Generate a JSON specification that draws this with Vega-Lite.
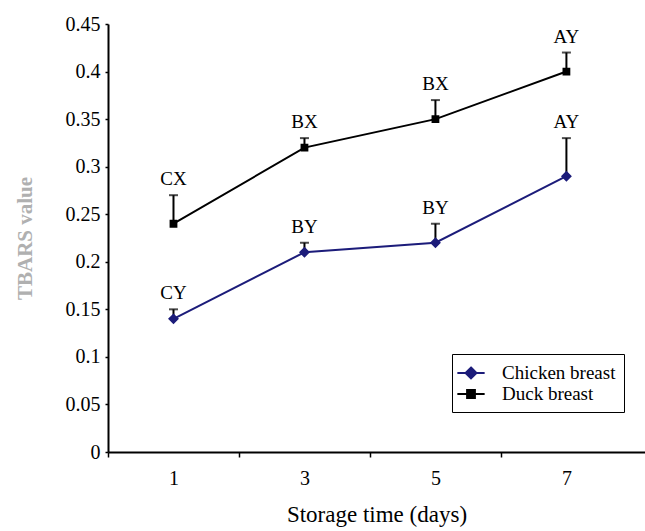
{
  "$schema": "https://vega.github.io/schema/vega-lite/v6.json",
  "width": 537,
  "height": 428,
  "autosize": "none",
  "padding": {"left": 108, "top": 24, "right": 0, "bottom": 79},
  "background": "white",
  "config": {
    "view": {"stroke": null},
    "font": "Liberation Serif"
  },
  "data": {
    "values": [
      {"day": 1, "series": "Chicken breast", "value": 0.14, "upper": 0.15, "label": "CY"},
      {"day": 3, "series": "Chicken breast", "value": 0.21, "upper": 0.22, "label": "BY"},
      {"day": 5, "series": "Chicken breast", "value": 0.22, "upper": 0.24, "label": "BY"},
      {"day": 7, "series": "Chicken breast", "value": 0.29, "upper": 0.33, "label": "AY"},
      {"day": 1, "series": "Duck breast", "value": 0.24, "upper": 0.27, "label": "CX"},
      {"day": 3, "series": "Duck breast", "value": 0.32, "upper": 0.33, "label": "BX"},
      {"day": 5, "series": "Duck breast", "value": 0.35, "upper": 0.37, "label": "BX"},
      {"day": 7, "series": "Duck breast", "value": 0.40, "upper": 0.42, "label": "AY"}
    ]
  },
  "encoding": {
    "x": {
      "field": "day", "type": "quantitative",
      "scale": {"domain": [0, 8.2], "nice": false},
      "axis": {
        "grid": false, "domainColor": "black", "domainWidth": 2, "tickColor": "black",
        "labelColor": "black", "labelFont": "Liberation Serif", "labelFontSize": 20,
        "titleFont": "Liberation Serif", "titleColor": "black",
        "title": "Storage time (days)", "titleFontSize": 23, "titleFontWeight": "normal", "titlePadding": 15,
        "values": [0, 1, 2, 3, 4, 5, 6, 7],
        "labelExpr": "datum.value % 2 == 1 ? datum.label : ''",
        "tickSize": 5, "tickWidth": 1.5, "labelPadding": 11,
        "tickOpacity": {"condition": {"test": "datum.value % 2 == 1", "value": 0}, "value": 1}
      }
    },
    "y": {
      "field": "value", "type": "quantitative",
      "scale": {"domain": [0, 0.45], "nice": false},
      "axis": {
        "grid": false, "domainColor": "black", "domainWidth": 2, "tickColor": "black",
        "labelColor": "black", "labelFont": "Liberation Serif", "labelFontSize": 20,
        "titleFont": "Liberation Serif",
        "title": "TBARS value", "titleFontSize": 21, "titleFontWeight": "bold", "titleColor": "#b0b0b0", "titlePadding": 30,
        "values": [0, 0.05, 0.1, 0.15, 0.2, 0.25, 0.3, 0.35, 0.4, 0.45],
        "format": ".2~f", "tickSize": 3, "tickWidth": 1.5, "labelPadding": 5
      }
    }
  },
  "layer": [
    {
      "mark": {"type": "line", "strokeWidth": 2},
      "encoding": {
        "color": {"field": "series", "type": "nominal", "scale": {"domain": ["Chicken breast", "Duck breast"], "range": ["#1c1c7a", "#000000"]}, "title": null}
      }
    },
    {
      "mark": {"type": "rule", "strokeWidth": 2, "color": "black"},
      "encoding": {"y2": {"field": "upper"}}
    },
    {
      "mark": {"type": "tick", "orient": "horizontal", "size": 9, "thickness": 2, "color": "black"},
      "encoding": {"y": {"field": "upper", "type": "quantitative"}}
    },
    {
      "mark": {"type": "point", "filled": true, "opacity": 1},
      "encoding": {
        "color": {"field": "series", "type": "nominal", "title": null},
        "shape": {
          "field": "series", "type": "nominal", "title": null,
          "scale": {"domain": ["Chicken breast", "Duck breast"], "range": ["M-1.4,0H1.4M0,-0.56L0.56,0L0,0.56L-0.56,0Z", "M-1.4,0H1.4M-0.4,-0.4H0.4V0.4H-0.4Z"]},
          "legend": {
            "orient": "none", "legendX": 344, "legendY": 330,
            "strokeColor": "black", "fillColor": "white", "padding": 8,
            "labelFont": "Liberation Serif", "labelFontSize": 19, "labelColor": "black",
            "symbolSize": 380, "symbolStrokeWidth": 2, "rowPadding": -2, "labelOffset": 20,
            "encode": {
              "symbols": {"update": {"stroke": {"scale": "color", "field": "value"}, "strokeWidth": {"value": 2}, "opacity": {"value": 1}}},
              "labels": {"update": {"font": {"value": "Liberation Serif"}, "fontSize": {"value": 19}}},
              "legend": {"update": {"strokeWidth": {"value": 2}}}
            }
          }
        },
        "size": {"value": 380}
      }
    },
    {
      "mark": {"type": "text", "baseline": "alphabetic", "dy": -10, "fontSize": 19, "color": "black", "font": "Liberation Serif"},
      "encoding": {"y": {"field": "upper", "type": "quantitative"}, "text": {"field": "label"}}
    }
  ]
}
